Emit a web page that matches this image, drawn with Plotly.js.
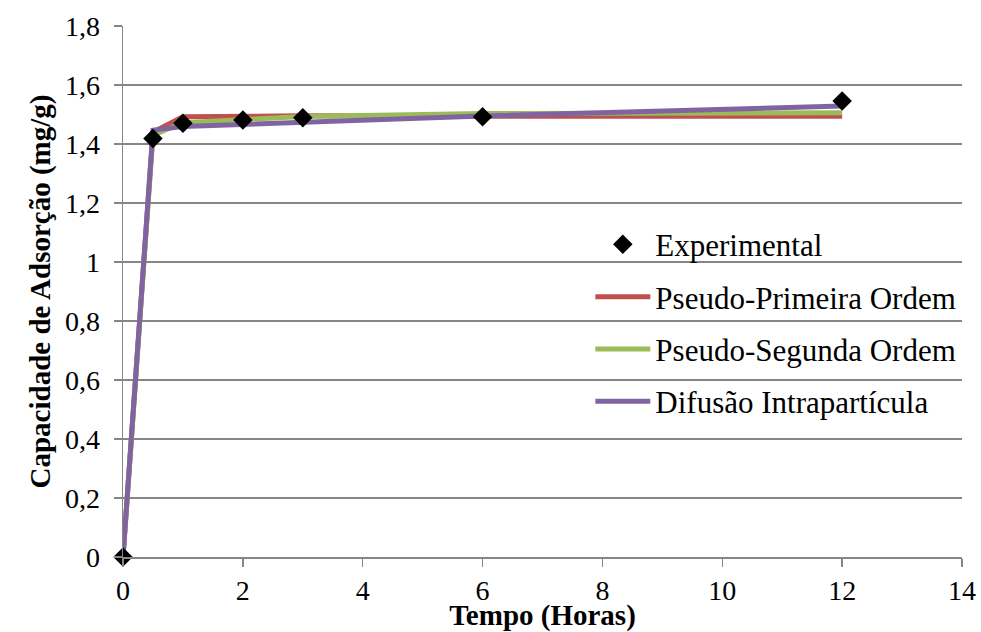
<!DOCTYPE html>
<html>
<head>
<meta charset="utf-8">
<script src="https://cdn.plot.ly/plotly-3.0.1.min.js"></script>
<style>html,body{margin:0;padding:0;background:#fff;}#chart{width:981px;height:632px;}</style>
</head>
<body>
<div id="chart"></div>
<script>
const tempo = [0, 0.5, 1, 2, 3, 6, 12];
const experimental = [0, 1.419, 1.470, 1.481, 1.489, 1.492, 1.546];
const pseudoPrimeira = [0, 1.440, 1.492, 1.496, 1.496, 1.494, 1.494];
const pseudoSegunda = [0, 1.430, 1.472, 1.484, 1.493, 1.503, 1.506];
const difusao = [0, 1.447, 1.459, 1.466, 1.476, 1.495, 1.529];
const seriesNames = ["Experimental", "Pseudo-Primeira Ordem", "Pseudo-Segunda Ordem", "Difusão Intrapartícula"];
const xTicks = [0, 2, 4, 6, 8, 10, 12, 14];
const yTicks = [0, 0.2, 0.4, 0.6, 0.8, 1, 1.2, 1.4, 1.6, 1.8];

const font = "Liberation Serif";
const traces = [
  {x: tempo, y: pseudoPrimeira, name: seriesNames[1], mode: "lines", legendgroup: "b", legendrank: 2,
   line: {color: "#C0504D", width: 5}},
  {x: tempo, y: pseudoSegunda, name: seriesNames[2], mode: "lines", legendgroup: "c", legendrank: 3,
   line: {color: "#9BBB59", width: 5}},
  {x: tempo, y: difusao, name: seriesNames[3], mode: "lines", legendgroup: "d", legendrank: 4,
   line: {color: "#8064A2", width: 5}},
  {x: tempo, y: experimental, name: seriesNames[0], mode: "markers", legendgroup: "a", legendrank: 1,
   cliponaxis: false,
   marker: {symbol: "diamond", color: "#000", size: 15}}
];
const layout = {
  width: 981, height: 632,
  margin: {l: 123, r: 19, t: 26, b: 75},
  paper_bgcolor: "#fff", plot_bgcolor: "#fff",
  separators: ",.",
  font: {family: font, size: 28, color: "#000"},
  xaxis: {
    range: [0, 14], tickvals: xTicks, showgrid: false, zeroline: false,
    showline: true, linecolor: "#868686", linewidth: 1.5,
    ticks: "outside", ticklen: 8, tickcolor: "#868686", tickwidth: 1.5,
    tickfont: {family: font, size: 28, color: "#000"},
    title: {text: "<b>Tempo (Horas)</b>", font: {family: font, size: 29, color: "#000"}, standoff: 1}
  },
  yaxis: {
    range: [0, 1.8], tickvals: yTicks, showgrid: true, gridcolor: "#868686", gridwidth: 1.5,
    zeroline: false, showline: true, linecolor: "#868686", linewidth: 1.5,
    ticks: "outside", ticklen: 8, tickcolor: "#868686", tickwidth: 1.5,
    ticklabelstandoff: 8,
    tickfont: {family: font, size: 28, color: "#000"},
    title: {text: "<b>Capacidade de Adsorção (mg/g)</b>", font: {family: font, size: 29, color: "#000"}, standoff: 6}
  },
  showlegend: true,
  legend: {
    x: 0.557, y: 0.639, xanchor: "left", yanchor: "top",
    bgcolor: "rgba(0,0,0,0)", font: {family: font, size: 31, color: "#000"},
    tracegroupgap: 9, itemwidth: 55, traceorder: "grouped"
  }
};
Plotly.newPlot("chart", traces, layout, {displayModeBar: false, staticPlot: true});
</script>
</body>
</html>
